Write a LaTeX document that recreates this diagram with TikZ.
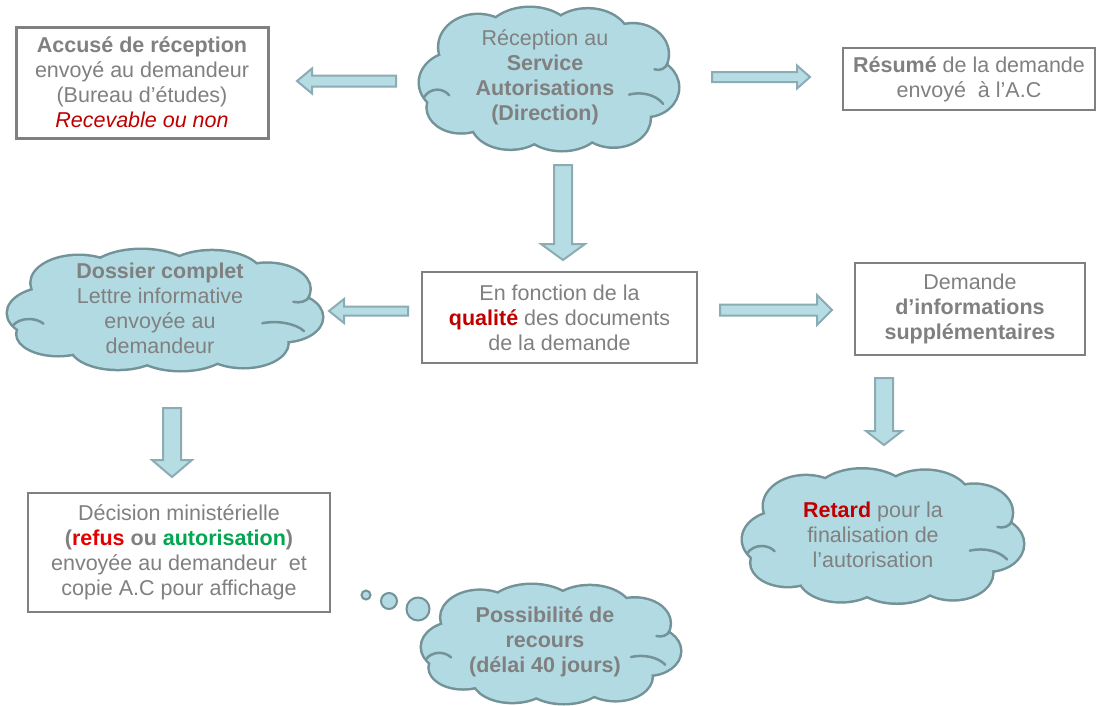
\documentclass[tikz,border=0pt]{standalone}
\usepackage{fontspec}
\setmainfont{Liberation Sans}
\usetikzlibrary{calc}
\definecolor{txt}{RGB}{128,128,128}
\definecolor{boxline}{RGB}{128,128,128}
\definecolor{cloudfill}{RGB}{178,218,226}
\definecolor{cloudline}{RGB}{115,147,152}
\definecolor{arrfill}{RGB}{183,221,228}
\definecolor{arrline}{RGB}{138,172,178}
\definecolor{redt}{RGB}{192,0,0}
\definecolor{redb}{RGB}{226,0,0}
\definecolor{greent}{RGB}{0,166,80}
\def\puffs{-0.72/0.05/0.28/0.42, -0.55/-0.45/0.30/0.45, -0.15/-0.55/0.35/0.45, 0.30/-0.55/0.32/0.43, 0.65/-0.35/0.27/0.42, 0.75/0.12/0.25/0.40, 0.50/0.55/0.28/0.40, 0.10/0.60/0.32/0.40, -0.30/0.60/0.30/0.38, -0.68/0.40/0.26/0.35}
\tikzset{
  lbl/.style={text=txt, align=center, font=\fontsize{21.5}{25}\selectfont, inner sep=0pt},
  box/.style={draw=boxline, fill=white, text=txt, align=center, font=\fontsize{21.5}{25}\selectfont, inner sep=0pt},
  barrowstyle/.style={fill=arrfill, draw=arrline, line width=2pt, line join=miter},
  bubble/.style={circle, draw=cloudline, fill=cloudfill, line width=2pt, inner sep=0pt},
  pics/pcloud/.style={code={
    \foreach \cx/\cy/\rx/\ry in \puffs {\draw[cloudline, line width=5pt] (\cx,\cy) ellipse [x radius=\rx, y radius=\ry];}
    \foreach \cx/\cy/\rx/\ry in \puffs {\fill[cloudfill] (\cx,\cy) ellipse [x radius=\rx, y radius=\ry];}
    \fill[cloudfill] (0,0) ellipse [x radius=0.75, y radius=0.65];
    \draw[cloudline, line width=2.5pt, line cap=round] (-0.97,0.26) arc [start angle=210, end angle=320, x radius=0.12, y radius=0.22];
    \draw[cloudline, line width=2.5pt, line cap=round] (0.62,0.22) arc [start angle=250, end angle=330, x radius=0.22, y radius=0.30];
    \draw[cloudline, line width=2.5pt, line cap=round] (0.92,-0.22) arc [start angle=20, end angle=110, x radius=0.08, y radius=0.14];
  }},
}
\newcommand\blockarrow[5]{%
  \coordinate (tmpb) at ($(#2)!#5!(#1)$);
  \draw[barrowstyle] ($(#1)!#3!90:(#2)$) -- ($(tmpb)!#3!90:(#2)$) -- ($(tmpb)!#4!90:(#2)$) -- (#2) -- ($(tmpb)!#4!-90:(#2)$) -- ($(tmpb)!#3!-90:(#2)$) -- ($(#1)!#3!-90:(#2)$) -- cycle;}
\begin{document}
\begin{tikzpicture}[x=1pt,y=-1pt]
\useasboundingbox[fill=white] (0,0) rectangle (1098,705);

% boxes
\node[box, line width=3pt, minimum width=252pt, minimum height=111pt] (accuse) at (142,82.5)
  {\textbf{Accusé de réception}\\envoyé au demandeur\\(Bureau d’études)\\\textcolor{redt}{\textit{Recevable ou non}}};
\node[box, line width=2.5pt, minimum width=252pt, minimum height=62pt] (resume) at (969,79)
  {\textbf{Résumé} de la demande\\envoyé \ à l’A.C};
\node[box, line width=1.5pt, minimum width=275pt, minimum height=91pt] (fonction) at (559.5,317.5)
  {En fonction de la\\\textcolor{redt}{\textbf{qualité}} des documents\\de la demande};
\node[box, line width=1.5pt, minimum width=230pt, minimum height=92pt] (infos) at (970,309)
  {Demande\\\textbf{d’informations}\\\textbf{supplémentaires}};
\node[box, line width=2pt, minimum width=302pt, minimum height=119pt] (decision) at (179,552.5)
  {Décision ministérielle\\\textbf{(\textcolor{redb}{refus} ou \textcolor{greent}{autorisation})}\\envoyée au demandeur \ et\\copie A.C pour affichage};

% clouds
\pic[xscale=129, yscale=71] at (549,79) {pcloud};
\node[lbl] (reception) at (545,77) {Réception au\\\textbf{Service}\\\textbf{Autorisations}\\\textbf{(Direction)}};
\pic[xscale=157, yscale=60] at (165,310) {pcloud};
\node[lbl] (dossier) at (160,308) {\textbf{Dossier complet}\\Lettre informative\\envoyée au\\demandeur};
\pic[xscale=140, yscale=66.5] at (883,536) {pcloud};
\node[lbl] (retard) at (873,535) {\textcolor{redt}{\textbf{Retard}} pour la\\finalisation de\\l’autorisation};
\pic[xscale=129, yscale=59] at (551,644) {pcloud};
\node[lbl] (recours) at (545,642) {\textbf{Possibilité de}\\\textbf{recours}\\\textbf{(délai 40 jours)}};

% thought bubbles
\node[bubble, minimum size=9pt] (b1) at (366,595) {};
\node[bubble, minimum size=16pt] (b2) at (389,601) {};
\node[bubble, minimum size=23pt] (b3) at (418,609) {};

% block arrows
\coordinate (a1s) at (396,81);  \coordinate (a1e) at (297,81);
\coordinate (a2s) at (712,77);  \coordinate (a2e) at (810,77);
\coordinate (a3s) at (563,165); \coordinate (a3e) at (563,260);
\coordinate (a4s) at (408,311); \coordinate (a4e) at (329,311);
\coordinate (a5s) at (720,310); \coordinate (a5e) at (832,310);
\coordinate (a6s) at (884,378); \coordinate (a6e) at (884,445);
\coordinate (a7s) at (172,408); \coordinate (a7e) at (172,477);
\blockarrow{a1s}{a1e}{5.5pt}{12.5pt}{15pt}
\blockarrow{a2s}{a2e}{5pt}{11.5pt}{13pt}
\blockarrow{a3s}{a3e}{9pt}{22pt}{16pt}
\blockarrow{a4s}{a4e}{4.5pt}{12pt}{15pt}
\blockarrow{a5s}{a5e}{5.5pt}{15pt}{15pt}
\blockarrow{a6s}{a6e}{9pt}{18pt}{14pt}
\blockarrow{a7s}{a7e}{9pt}{20pt}{17pt}
\end{tikzpicture}
\end{document}
